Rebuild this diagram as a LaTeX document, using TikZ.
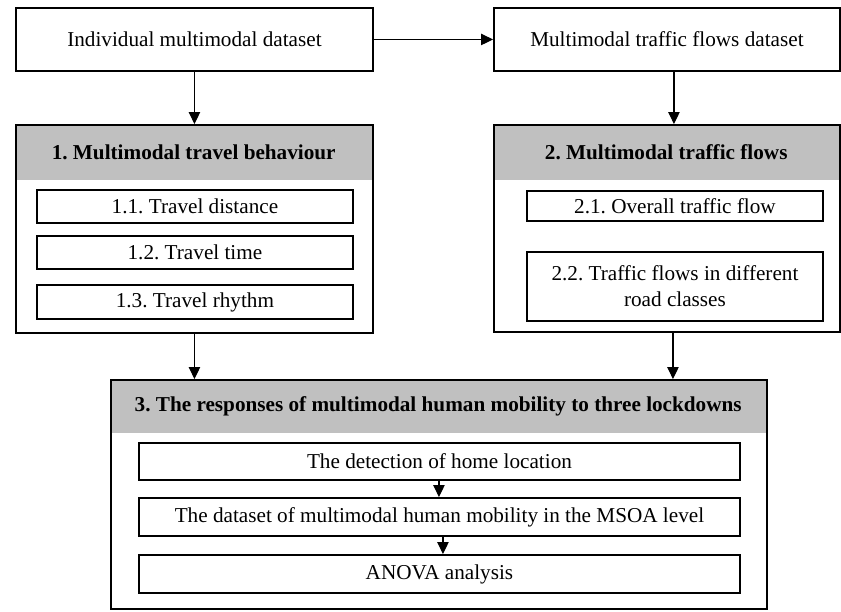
\documentclass[tikz,border=0pt]{standalone}
\usepackage{fontspec}
\setmainfont{Liberation Serif}
\usetikzlibrary{arrows.meta,calc}
\definecolor{hdrgray}{RGB}{192,192,192}
\frenchspacing
\begin{document}
\begin{tikzpicture}[x=1pt,y=-1pt,
  every node/.style={font=\fontsize{21.2}{26}\selectfont, inner sep=0pt},
  plainbox/.style={draw=black, line width=1.9pt, fill=white, anchor=north west},
  outerbox/.style={draw=black, line width=1.9pt, anchor=north west},
  hdr/.style={fill=hdrgray, anchor=north west, font=\fontsize{21.2}{26}\selectfont\bfseries},
  arr/.style={line width=1.1pt, -{Triangle[width=11.5pt,length=12pt]}}
]
\useasboundingbox (0,0) rectangle (841,611);
% top boxes
\node[plainbox, minimum width=357pt, minimum height=63pt] (A) at (15,7) {Individual multimodal dataset};
\node[plainbox, minimum width=346pt, minimum height=63pt] (B) at (493,7) {Multimodal traffic flows dataset};
% box 1
\node[hdr, minimum width=357pt, minimum height=56pt] (h1) at (15,124) {1. Multimodal travel behaviour};
\node[outerbox, minimum width=357pt, minimum height=208pt] (box1) at (15,124) {};
\node[plainbox, minimum width=316pt, minimum height=33pt] (s11) at (36,189) {1.1. Travel distance};
\node[plainbox, minimum width=316pt, minimum height=33pt] (s12) at (36,235) {1.2. Travel time};
\node[plainbox, minimum width=316pt, minimum height=34pt] (s13) at (36,284) {1.3. Travel rhythm};
% box 2
\node[hdr, minimum width=346pt, minimum height=56pt] (h2) at (493,124) {2. Multimodal traffic flows};
\node[outerbox, minimum width=346pt, minimum height=207pt] (box2) at (493,124) {};
\node[plainbox, minimum width=296pt, minimum height=30pt] (s21) at (526,190) {2.1. Overall traffic flow};
\node[plainbox, minimum width=296pt, minimum height=69pt, align=center] (s22) at (526,251) {2.2. Traffic flows in different\\road classes};
% box 3
\node[hdr, minimum width=656pt, minimum height=54pt] (h3) at (110,379) {3. The responses of multimodal human mobility to three lockdowns};
\node[outerbox, minimum width=656pt, minimum height=229pt] (box3) at (110,379) {};
\node[plainbox, minimum width=601pt, minimum height=37pt] (c1) at (138,442) {The detection of home location};
\node[plainbox, minimum width=601pt, minimum height=38pt] (c2) at (138,497) {The dataset of multimodal human mobility in the MSOA level};
\node[plainbox, minimum width=601pt, minimum height=38pt] (c3) at (138,554) {ANOVA analysis};
% connectors
\draw[arr] (A.east) -- (B.west);
\draw[arr] (A.south) -- (box1.north);
\draw[arr] ([xshift=7pt]B.south) -- ([xshift=7pt]box2.north);
\draw[arr] (box1.south) -- (box1.south |- box3.north);
\draw[arr] ([xshift=6pt]box2.south) -- ([xshift=6pt]box2.south |- box3.north);
\draw[arr] ([xshift=-0.5pt]c1.south) -- ([xshift=-0.5pt]c2.north);
\draw[arr] ([xshift=3.5pt]c2.south) -- ([xshift=3.5pt]c3.north);
\end{tikzpicture}
\end{document}
